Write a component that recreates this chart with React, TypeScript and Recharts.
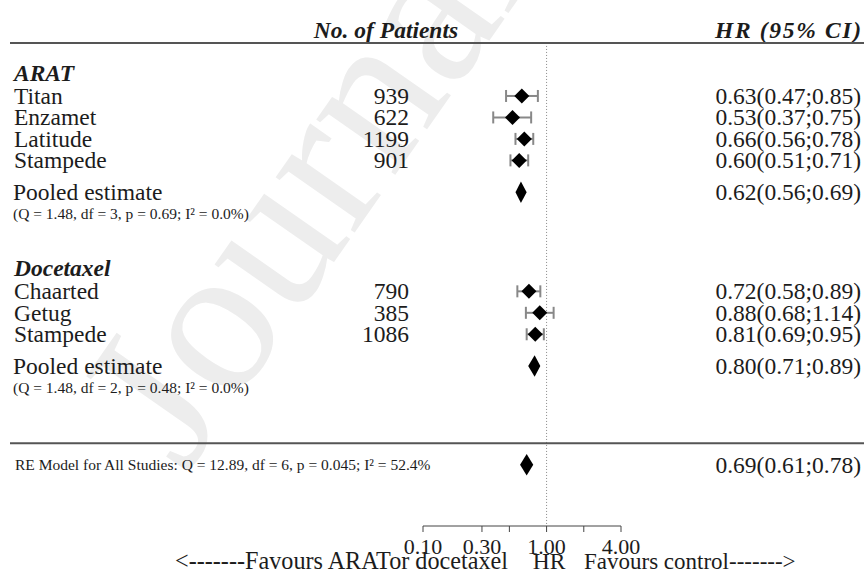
import React from "react";
import {
  ScatterChart,
  Scatter,
  XAxis,
  YAxis,
  ErrorBar,
  ReferenceLine,
  ReferenceArea,
  Label,
} from "recharts";

// study level data
const groupNames = ["ARAT", "Docetaxel"];
const studyNames = [
  ["Titan", "Enzamet", "Latitude", "Stampede"],
  ["Chaarted", "Getug", "Stampede"],
];
const patients = [
  [939, 622, 1199, 901],
  [790, 385, 1086],
];
const hazardRatio = [
  [0.63, 0.53, 0.66, 0.6],
  [0.72, 0.88, 0.81],
];
const ciLower = [
  [0.47, 0.37, 0.56, 0.51],
  [0.58, 0.68, 0.69],
];
const ciUpper = [
  [0.85, 0.75, 0.78, 0.71],
  [0.89, 1.14, 0.95],
];

// pooled estimates per group
const pooledHr = [0.62, 0.8];
const pooledLower = [0.56, 0.71];
const pooledUpper = [0.69, 0.89];
const pooledNotes = [
  "(Q = 1.48, df = 3, p = 0.69; I² = 0.0%)",
  "(Q = 1.48, df = 2, p = 0.48; I² = 0.0%)",
];

// overall RE model
const overallHr = [0.69];
const overallLower = [0.61];
const overallUpper = [0.78];
const overallNote = "RE Model for All Studies: Q = 12.89, df = 6, p = 0.045; I² = 52.4%";

const axisTicks = [0.1, 0.3, 0.5, 1, 2, 4];
const axisTickLabels = ["0.10", "0.30", "", "1.00", "", "4.00"];

const SERIF = "'Liberation Serif', 'Times New Roman', serif";
const INK = "#1c1c1c";
const fmt = (h: number, l: number, u: number) =>
  `${h.toFixed(2)}(${l.toFixed(2)};${u.toFixed(2)})`;

// row layout (in row units, top to bottom)
type Row = {
  kind: string;
  y: number;
  label?: string;
  n?: number;
  hr?: number;
  lo?: number;
  hi?: number;
};
const rows: Row[] = [];
let pos = 1.4;
rows.push({ kind: "header", y: pos });
pos = 2;
rows.push({ kind: "rule", y: pos });
groupNames.forEach((g, gi) => {
  pos += gi === 0 ? 1.4 : 2.55;
  rows.push({ kind: "group", y: pos, label: g });
  studyNames[gi].forEach((s, si) => {
    pos += si === 0 ? 1.07 : 1.0;
    rows.push({
      kind: "study",
      y: pos,
      label: s,
      n: patients[gi][si],
      hr: hazardRatio[gi][si],
      lo: ciLower[gi][si],
      hi: ciUpper[gi][si],
    });
  });
  pos += 1.48;
  rows.push({ kind: "pooled", y: pos, hr: pooledHr[gi], lo: pooledLower[gi], hi: pooledUpper[gi] });
  pos += 1.0;
  rows.push({ kind: "note", y: pos, label: pooledNotes[gi] });
});
pos += 2.6;
rows.push({ kind: "rule", y: pos });
pos += 1.0;
rows.push({
  kind: "overall",
  y: pos,
  label: overallNote,
  hr: overallHr[0],
  lo: overallLower[0],
  hi: overallUpper[0],
});
const Y_MAX = 24.5;
const topRuleY = rows.find((r) => r.kind === "rule")!.y;

const studyPoints = rows
  .filter((r) => r.kind === "study")
  .map((r) => ({ x: r.hr, y: r.y, err: [r.hr! - r.lo!, r.hi! - r.hr!] }));
const summaryRows = rows.filter((r) => r.kind === "pooled" || r.kind === "overall");

function RowTick(props: any) {
  const { y, payload } = props;
  const row = rows.find((r) => Math.abs(r.y - payload.value) < 1e-6);
  if (!row) return <g />;
  const base = y;
  const big = { fontFamily: SERIF, fontSize: 23.5, fill: INK };
  const small = { fontFamily: SERIF, fontSize: 15.5, fill: INK };
  if (row.kind === "header") {
    return (
      <g>
        <text x={386} y={base} dy="0.34em" textAnchor="middle" {...big} fontWeight="bold" fontStyle="italic">
          No. of Patients
        </text>
        <text
          x={861}
          y={base}
          dy="0.34em"
          textAnchor="end"
          textLength={146}
          lengthAdjust="spacing"
          {...big}
          fontWeight="bold"
          fontStyle="italic"
        >
          HR (95% CI)
        </text>
      </g>
    );
  }
  if (row.kind === "rule") {
    return <line x1={10} x2={864} y1={base} y2={base} stroke="#555" strokeWidth={2} />;
  }
  if (row.kind === "group") {
    return (
      <text x={14} y={base} dy="0.34em" {...big} fontWeight="bold" fontStyle="italic">
        {row.label}
      </text>
    );
  }
  if (row.kind === "study") {
    return (
      <g>
        <text x={14} y={base} dy="0.34em" {...big}>{row.label}</text>
        <text x={409} y={base} dy="0.34em" textAnchor="end" {...big}>{row.n}</text>
        <text x={861} y={base} dy="0.34em" textAnchor="end" {...big}>{fmt(row.hr!, row.lo!, row.hi!)}</text>
      </g>
    );
  }
  if (row.kind === "pooled") {
    return (
      <g>
        <text x={13} y={base} dy="0.34em" {...big}>Pooled estimate</text>
        <text x={861} y={base} dy="0.34em" textAnchor="end" {...big}>{fmt(row.hr!, row.lo!, row.hi!)}</text>
      </g>
    );
  }
  if (row.kind === "note") {
    return (
      <text x={13} y={base} dy="0.34em" {...small}>{row.label}</text>
    );
  }
  if (row.kind === "overall") {
    return (
      <g>
        <text x={15} y={base} dy="0.34em" {...small}>{row.label}</text>
        <text x={861} y={base} dy="0.34em" textAnchor="end" {...big}>{fmt(row.hr!, row.lo!, row.hi!)}</text>
      </g>
    );
  }
  return <g />;
}

function StudyDiamond(props: any) {
  const { cx, cy } = props;
  const r = 7.5;
  return (
    <polygon
      points={`${cx - r},${cy} ${cx},${cy - r} ${cx + r},${cy} ${cx},${cy + r}`}
      fill="#000"
    />
  );
}

function summaryShape(row: Row) {
  return (props: any) => {
    const { x, y, width, height } = props;
    const t = (Math.log(row.hr!) - Math.log(row.lo!)) / (Math.log(row.hi!) - Math.log(row.lo!));
    const ax = x + width * t;
    const my = y + height / 2;
    return (
      <polygon
        points={`${x},${my} ${ax},${y} ${x + width},${my} ${ax},${y + height}`}
        fill="#000"
      />
    );
  };
}

function Caption() {
  const st = { fontFamily: SERIF, fontSize: 23.5, fill: INK };
  return (
    <g>
      <text x={508} y={569} textAnchor="end" {...st} fontSize={24.2}>
        {"<-------Favours ARATor docetaxel"}
      </text>
      <text x={549} y={569} textAnchor="middle" {...st}>HR</text>
      <text x={584} y={569} textAnchor="start" {...st} fontSize={23}>
        {"Favours control------->"}
      </text>
    </g>
  );
}

function Watermark() {
  return (
    <svg width={864} height={574} style={{ position: "absolute", left: 0, top: 0 }}>
      <text
        x={185}
        y={475}
        transform="rotate(-55 185 475)"
        fontFamily={SERIF}
        fontSize={210}
        fill="#ededed"
      >
        Journal
      </text>
    </svg>
  );
}

export default function App() {
  return (
    <div style={{ position: "absolute", left: 0, top: 0, width: 864, height: 574, background: "#fff" }}>
      <Watermark />
      <div style={{ position: "absolute", left: 0, top: 0 }}>
        <ScatterChart width={864} height={574} margin={{ top: 0, right: 243, bottom: 0, left: 323 }}>
          <XAxis
            type="number"
            dataKey="x"
            scale="log"
            domain={[0.1, 4]}
            allowDataOverflow
            ticks={axisTicks}
            interval={0}
            tickFormatter={(v: number) => axisTickLabels[axisTicks.indexOf(v)] ?? ""}
            height={48}
            tickSize={6}
            tickMargin={6}
            stroke="#444"
            tick={{ fontFamily: SERIF, fontSize: 22, fill: INK }}
          >
            <Label content={<Caption />} />
          </XAxis>
          <YAxis
            type="number"
            dataKey="y"
            domain={[0, Y_MAX]}
            reversed
            width={100}
            axisLine={false}
            tickLine={false}
            ticks={rows.map((r) => r.y)}
            interval={0}
            tick={(p: any) => <RowTick {...p} />}
          />
          <ReferenceLine
            segment={[
              { x: 1, y: topRuleY },
              { x: 1, y: Y_MAX },
            ]}
            stroke="#888"
            strokeDasharray="1 2"
          />
          {summaryRows.map((r, i) => (
            <ReferenceArea
              key={i}
              x1={r.lo}
              x2={r.hi}
              y1={r.y - 0.5}
              y2={r.y + 0.5}
              shape={summaryShape(r)}
            />
          ))}
          <Scatter data={studyPoints} shape={<StudyDiamond />} isAnimationActive={false}>
            <ErrorBar dataKey="err" direction="x" width={6} stroke="#888" strokeWidth={2} />
          </Scatter>
        </ScatterChart>
      </div>
    </div>
  );
}
